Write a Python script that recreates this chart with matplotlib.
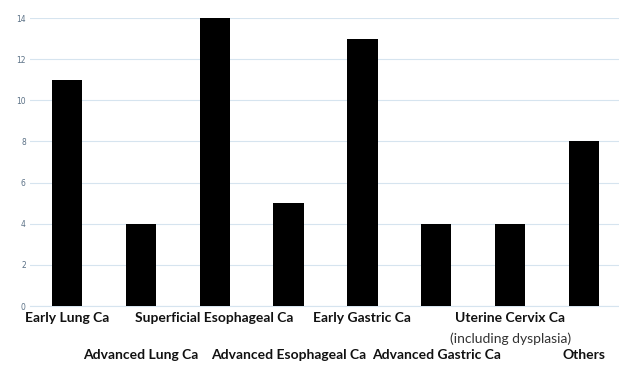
import matplotlib.pyplot as plt
import matplotlib.transforms as mtransforms

categories = ["Early Lung Ca", "Advanced Lung Ca", "Superficial Esophageal Ca",
              "Advanced Esophageal Ca", "Early Gastric Ca", "Advanced Gastric Ca",
              "Uterine Cervix Ca", "Others"]
counts = [11, 4, 14, 5, 13, 4, 4, 8]
yticks = [0, 2, 4, 6, 8, 10, 12, 14]

fig = plt.figure(figsize=(6.19, 3.65), dpi=100)
ax = fig.add_axes([30 / 619, 1 - 306 / 365, 591 / 619, 288 / 365])

x = list(range(len(categories)))
ax.bar(x, counts, width=0.41, color="black", zorder=3)
ax.set_xlim(-0.5, len(categories) - 0.5)
ax.set_ylim(0, 14)
ax.set_yticks(yticks)
ax.set_yticklabels([str(t) for t in yticks], fontsize=5.5, color="#5b7186")
ax.tick_params(axis="y", length=0, pad=3)
ax.set_xticks([])
ax.grid(axis="y", color="#d6e4ef", linewidth=0.8, zorder=0)
for s in ["top", "right", "left"]:
    ax.spines[s].set_visible(False)
ax.spines["bottom"].set_color("#d6e4ef")

# alternating category labels below the axis
trans = mtransforms.blended_transform_factory(ax.transData, fig.transFigure)
for i, name in enumerate(categories):
    y = 1 - 318 / 365 if i % 2 == 0 else 1 - 355 / 365
    ax.text(i, y, name, transform=trans, ha="center", va="center",
            fontsize=10, fontweight="bold", family="Lato", color="#111111")
ax.text(6, 1 - 339 / 365, "(including dysplasia)", transform=trans,
        ha="center", va="center", fontsize=10, family="Lato", color="#333333")

fig.savefig("out.png", dpi=100)
